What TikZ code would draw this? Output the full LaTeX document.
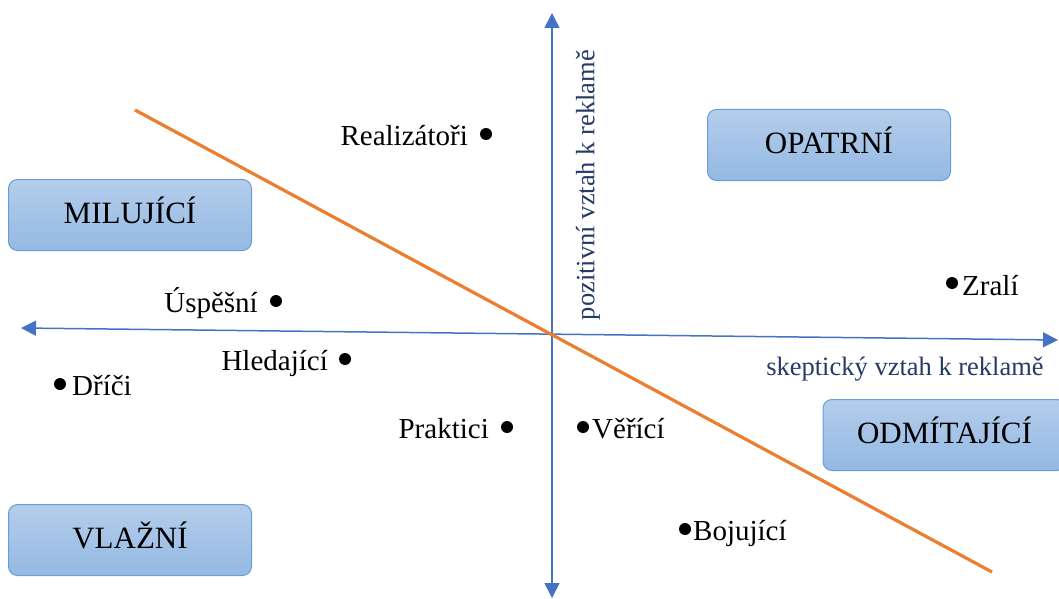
\documentclass[tikz,border=0pt]{standalone}
\usepackage{fontspec}
\setmainfont{Liberation Serif}
\usetikzlibrary{arrows.meta}

\definecolor{axisblue}{RGB}{68,114,196}
\definecolor{lineorange}{RGB}{237,125,49}
\definecolor{boxtop}{RGB}{180,205,235}
\definecolor{boxbottom}{RGB}{148,185,227}
\definecolor{boxedge}{RGB}{104,158,214}
\definecolor{axistext}{RGB}{38,58,102}

\tikzset{
  axis/.style={draw=axisblue, line width=1.5pt,
    {Triangle[length=15pt,width=15pt]}-{Triangle[length=15pt,width=15pt]}},
  divider/.style={draw=lineorange, line width=3.2pt},
  groupbox/.style={draw=boxedge, line width=1pt, rounded corners=9pt,
    top color=boxtop, bottom color=boxbottom,
    minimum width=243pt, minimum height=71pt, inner sep=0pt,
    text height=20pt, text depth=4pt,
    font=\fontsize{31}{36}\selectfont},
  dot/.style={circle, fill=black, inner sep=0pt, minimum size=12pt},
  lbl/.style={inner sep=0pt, font=\fontsize{29}{34}\selectfont},
  axlbl/.style={inner sep=0pt, text=axistext, font=\fontsize{26.5}{31}\selectfont}
}

\begin{document}
\begin{tikzpicture}[x=1pt, y=-1pt]
\useasboundingbox (0,0) rectangle (1059,599);

% axes
\coordinate (xl) at (21,328);
\coordinate (xr) at (1058,340);
\coordinate (yt) at (552,13);
\coordinate (yb) at (552,598);
\draw[axis] (xl) -- (xr);
\draw[axis] (yb) -- (yt);

\node[axlbl, rotate=90] (ylab) at (588,185) {pozitivní vztah k reklamě};
\node[axlbl, anchor=base] (xlab) at (905,375) {skeptický vztah k reklamě};

% dividing line
\coordinate (d1) at (135,110);
\coordinate (d2) at (992,572);
\draw[divider] (d1) -- (d2);

% segment boxes
\node[groupbox] (milujici) at (130,215) {MILUJÍCÍ};
\node[groupbox] (opatrni) at (829,145) {OPATRNÍ};
\node[groupbox] (odmitajici) at (944.5,435) {ODMÍTAJÍCÍ};
\node[groupbox] (vlazni) at (130,540) {VLAŽNÍ};

% segments
\node[dot] (p-real) at (486,134) {};
\node[lbl, anchor=base east] (t-real) at (468,145) {Realizátoři};

\node[dot] (p-usp) at (276,301) {};
\node[lbl, anchor=base east] (t-usp) at (258,312) {Úspěšní};

\node[dot] (p-hled) at (345,359) {};
\node[lbl, anchor=base east] (t-hled) at (328,370) {Hledající};

\node[dot] (p-drici) at (60,384) {};
\node[lbl, anchor=base west] (t-drici) at (72,395) {Dříči};

\node[dot] (p-prak) at (507,427) {};
\node[lbl, anchor=base east] (t-prak) at (489,438) {Praktici};

\node[dot] (p-veri) at (583,427) {};
\node[lbl, anchor=base west] (t-veri) at (592,438) {Věřící};

\node[dot] (p-boj) at (685,529) {};
\node[lbl, anchor=base west] (t-boj) at (693,540) {Bojující};

\node[dot] (p-zrali) at (952,283) {};
\node[lbl, anchor=base west] (t-zrali) at (962,295) {Zralí};
\end{tikzpicture}
\end{document}
